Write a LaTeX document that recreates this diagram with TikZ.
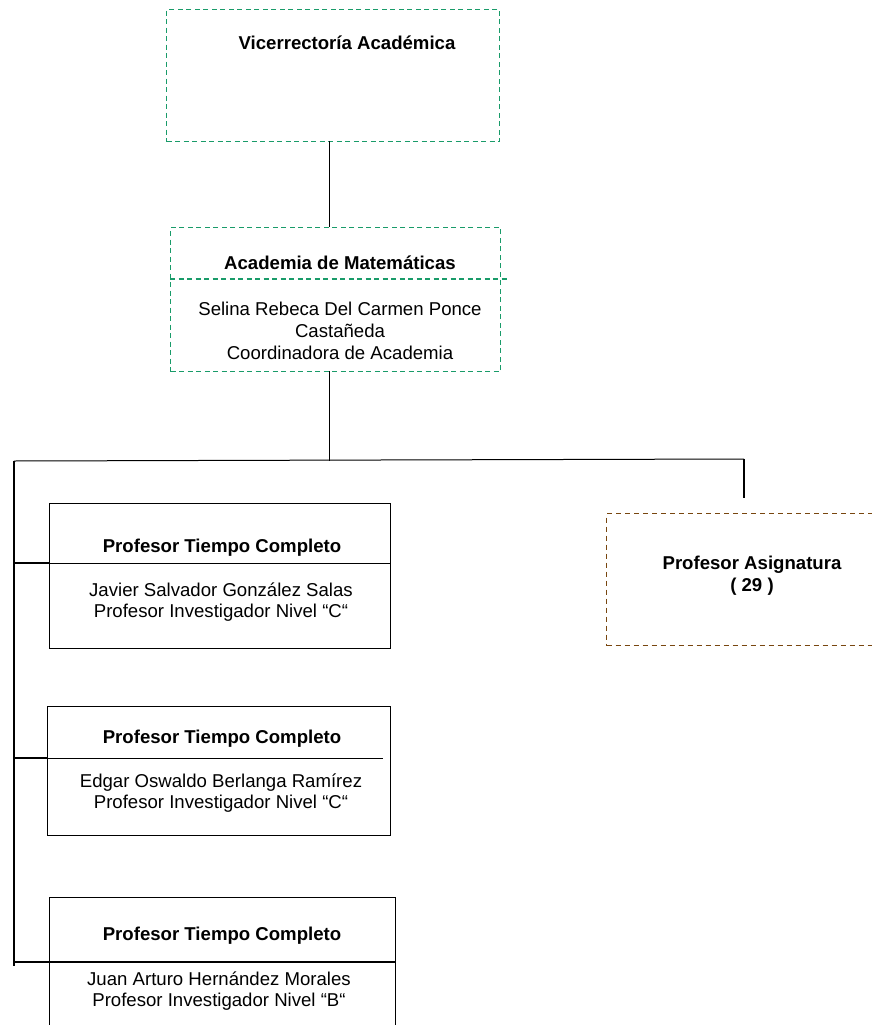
\documentclass[tikz,border=0pt]{standalone}
\usepackage{fontspec}
\setmainfont{Liberation Sans}
\usetikzlibrary{calc}
\definecolor{dgreen}{RGB}{25,155,105}
\definecolor{dbrown}{RGB}{120,70,15}
\begin{document}
\begin{tikzpicture}[x=1pt,y=-1pt,
  greenbox/.style={draw=dgreen, line width=1.2pt, dash pattern=on 5pt off 3.5pt, inner sep=0pt, anchor=north west},
  brownbox/.style={draw=dbrown, line width=1.2pt, dash pattern=on 5pt off 4pt, inner sep=0pt, anchor=north west},
  solidbox/.style={draw=black, line width=1pt, inner sep=0pt, anchor=north west},
  txt/.style={font=\fontsize{18.6}{22}\selectfont, anchor=base, inner sep=0pt},
  boldtxt/.style={font=\fontsize{18.6}{22}\selectfont\bfseries, anchor=base, inner sep=0pt},
  link/.style={draw=black, line width=1pt},
  heavylink/.style={draw=black, line width=2pt},
  greenrule/.style={draw=dgreen, line width=1.2pt, dash pattern=on 5pt off 3.5pt}]
\useasboundingbox (0,0) rectangle (872,1025);
\clip (0,0) rectangle (872,1025);

% boxes
\node[greenbox, minimum width=333pt, minimum height=132pt] (vra) at (166,9) {};
\node[greenbox, minimum width=330pt, minimum height=144pt] (acad) at (170,227) {};
\node[brownbox, minimum width=274pt, minimum height=132pt] (asig) at (606,513) {};
\node[solidbox, minimum width=341pt, minimum height=145pt] (tc1) at (49,503) {};
\node[solidbox, minimum width=343pt, minimum height=129pt] (tc2) at (47,706) {};
\node[solidbox, minimum width=346pt, minimum height=140pt] (tc3) at (49,897) {};

% junction points
\coordinate (vraout) at (329,141);
\coordinate (acadin) at (329,227);
\coordinate (acadout) at (329,371);
\coordinate (busmid) at (329,461);
\coordinate (busleft) at (14,461);
\coordinate (busright) at (744,459);
\coordinate (asigdrop) at (744,498);
\coordinate (spineend) at (14,966);
\coordinate (tap1) at (14,563);
\coordinate (tap2) at (14,758);
\coordinate (tap3) at (14,962);

% texts
\node[boldtxt] (vratitle) at (347,49) {Vicerrectoría Académica};
\node[boldtxt] (acadtitle) at (340,269) {Academia de Matemáticas};
\node[txt] (acad1) at (340,315) {Selina Rebeca Del Carmen Ponce};
\node[txt] (acad2) at (340,337) {Castañeda};
\node[txt] (acad3) at (340,359) {Coordinadora de Academia};

\node[boldtxt] (asig1) at (752,569) {Profesor Asignatura};
\node[boldtxt] (asig2) at (752,591) {( 29 )};

\node[boldtxt] (tc1title) at (222,552) {Profesor Tiempo Completo};
\node[txt] (tc1a) at (221,596) {Javier Salvador González Salas};
\node[txt] (tc1b) at (221,617) {Profesor Investigador Nivel “C“};

\node[boldtxt] (tc2title) at (222,743) {Profesor Tiempo Completo};
\node[txt] (tc2a) at (221,787) {Edgar Oswaldo Berlanga Ramírez};
\node[txt] (tc2b) at (221,808) {Profesor Investigador Nivel “C“};

\node[boldtxt] (tc3title) at (222,940) {Profesor Tiempo Completo};
\node[txt] (tc3a) at (219,985) {Juan Arturo Hernández Morales};
\node[txt] (tc3b) at (219,1006) {Profesor Investigador Nivel “B“};

% inner dividers
\draw[greenrule] (acad.west |- 0,279) -- (508,279);
\draw[line width=1pt] (tc1.west |- tap1) -- (tc1.east |- tap1);
\draw[line width=1pt] (tc2.west |- tap2) -- (383,758);

% connectors
\draw[link] (vraout) -- (acadin);
\draw[link] (acadout) -- (busmid);
\draw[link] (busleft) -- (busright);
\draw[heavylink] (busright) -- (asigdrop);
\draw[line width=1.5pt] (busleft) -- (spineend);
\draw[heavylink] (tap1) -- (tc1.west |- tap1);
\draw[heavylink] (tap2) -- (tc2.west |- tap2);
\draw[heavylink] (tap3) -- (tc3.east |- tap3);
\end{tikzpicture}
\end{document}
